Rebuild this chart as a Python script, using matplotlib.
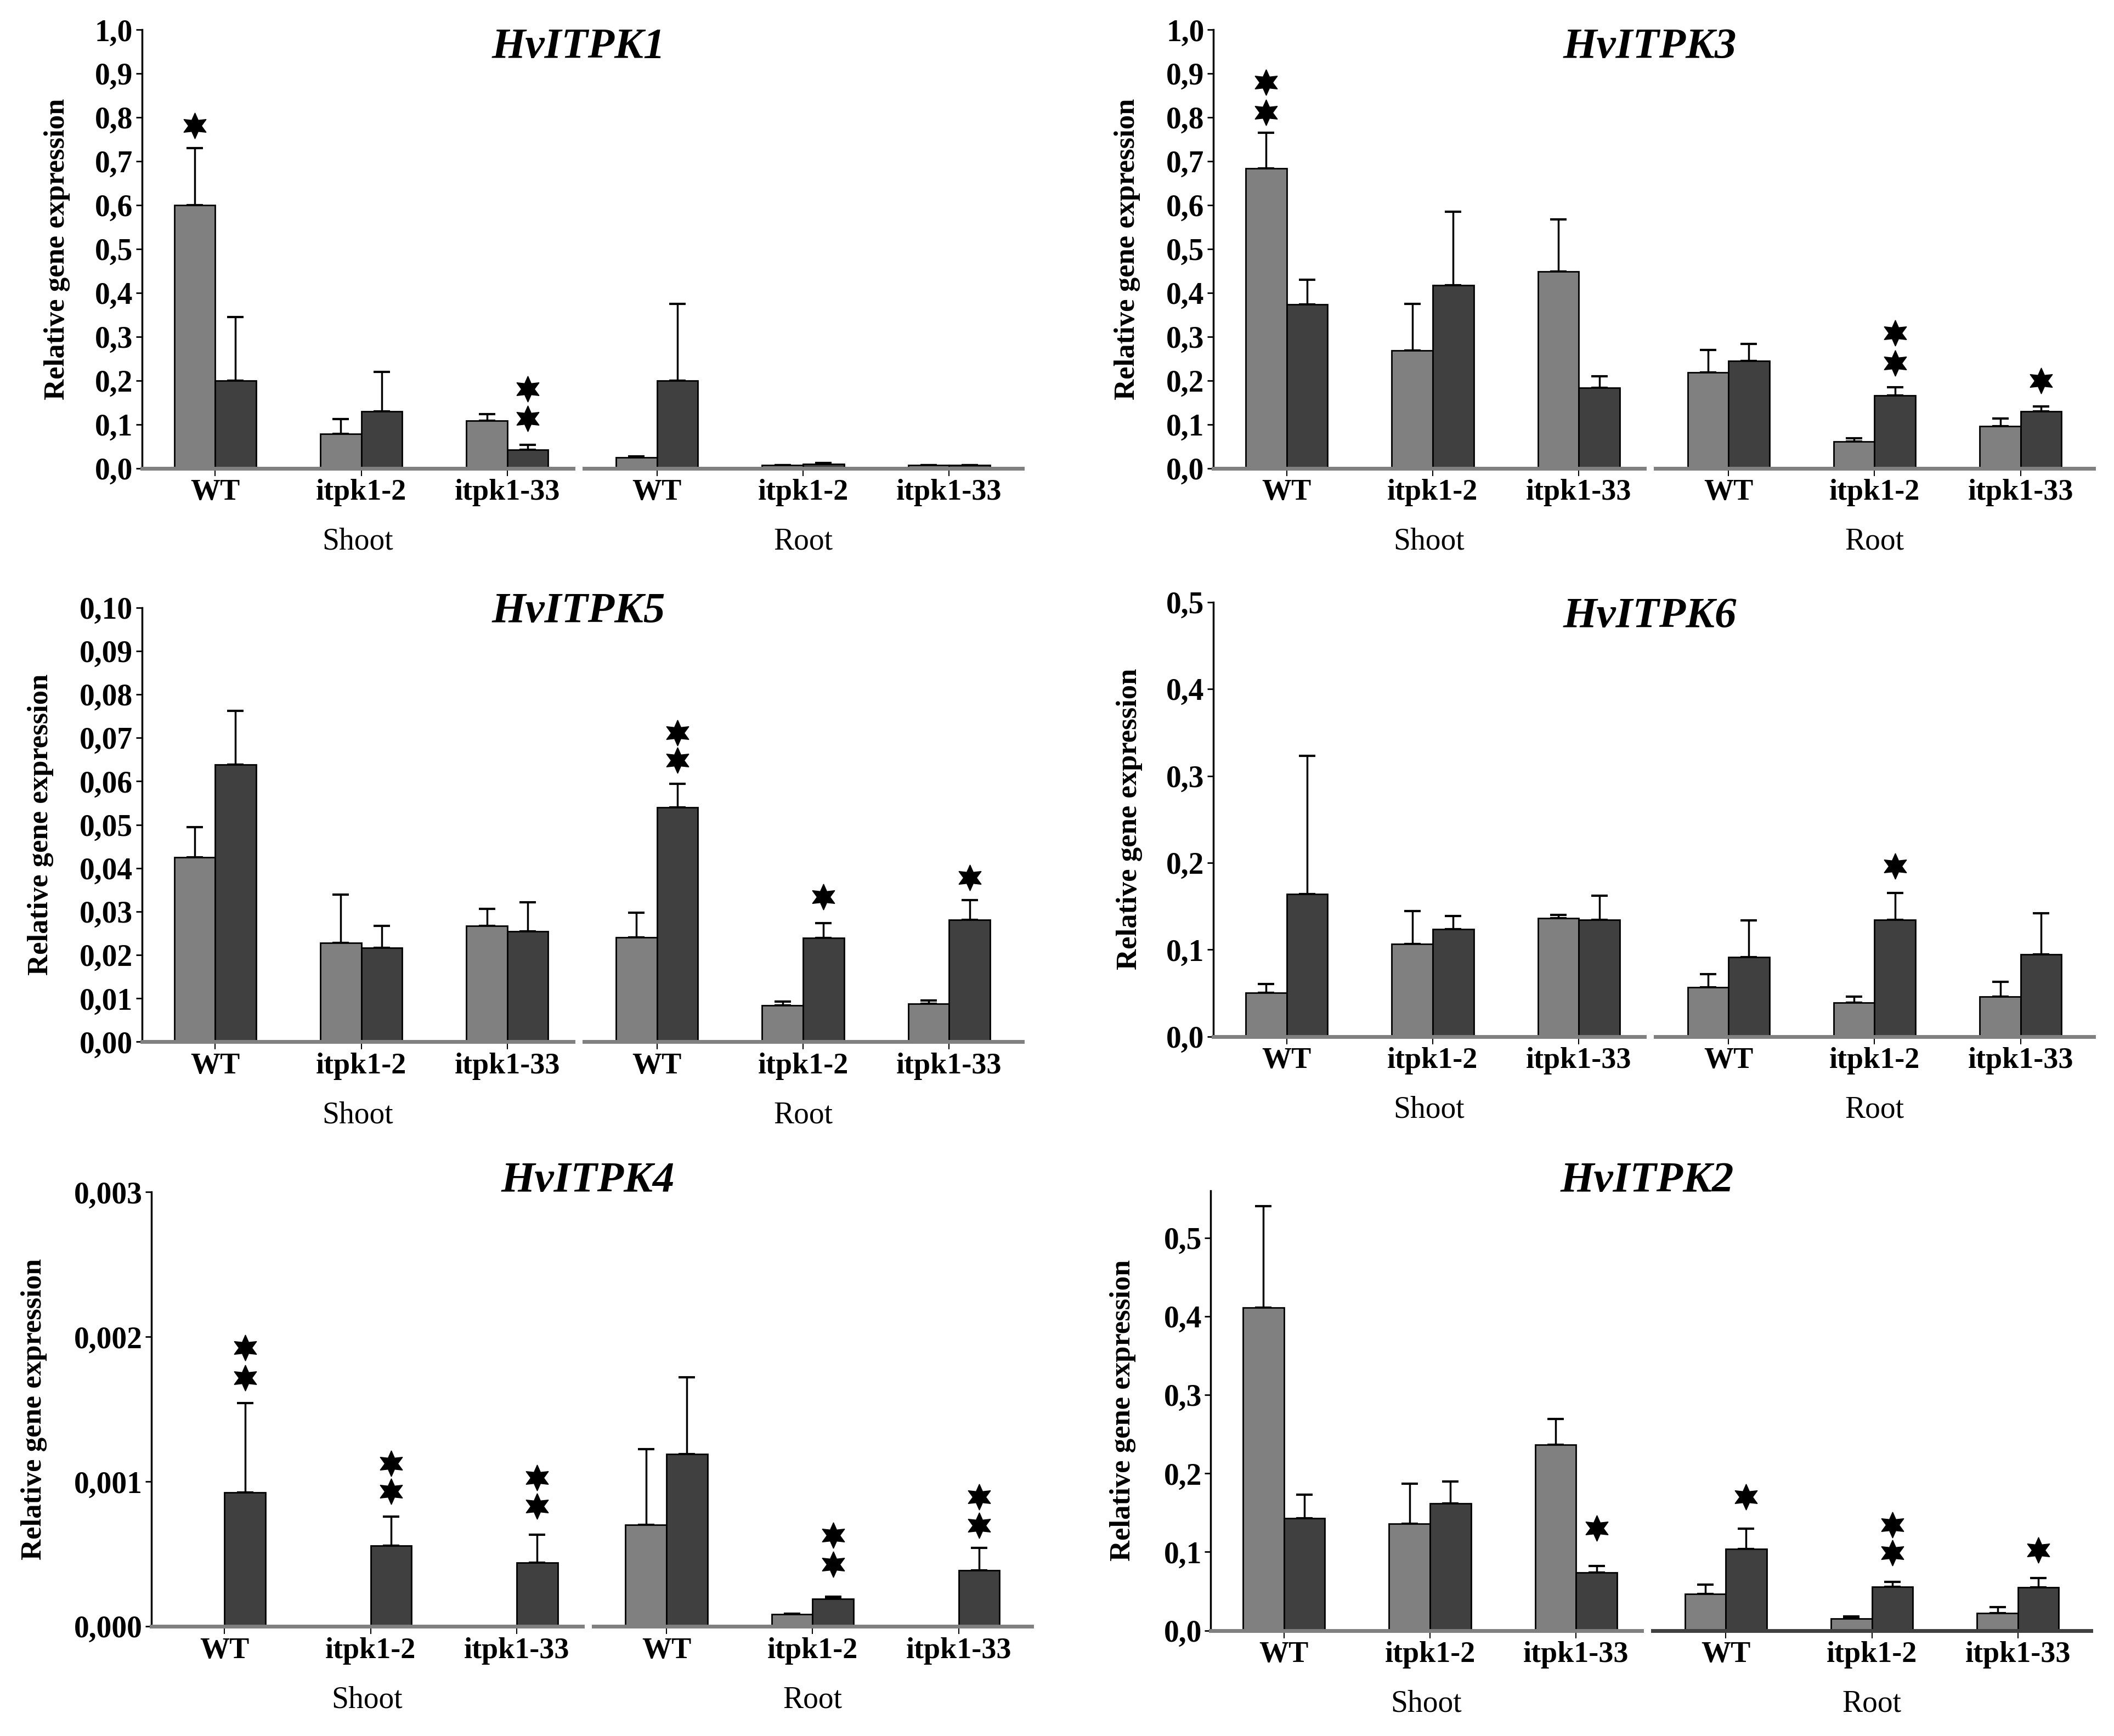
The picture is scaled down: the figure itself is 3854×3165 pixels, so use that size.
import matplotlib
matplotlib.use('Agg')
import matplotlib.pyplot as plt
import numpy as np

plt.rcParams['font.family'] = ['Liberation Serif', 'DejaVu Serif']

genotypes = ['WT', 'itpk1-2', 'itpk1-33']
tissues = ['Shoot', 'Root']

# values per genotype: (light bar, dark bar); err = upper error only
# HvITPK1
k1_shoot = [[0.600, 0.200], [0.078, 0.130], [0.108, 0.042]]
k1_shoot_err = [[0.130, 0.145], [0.034, 0.090], [0.015, 0.011]]
k1_root = [[0.025, 0.200], [0.007, 0.010], [0.007, 0.007]]
k1_root_err = [[0.002, 0.175], [0.000, 0.002], [0.000, 0.000]]
k1_stars = [(0, 0, 0, 0.782), (0, 2, 1, 0.113), (0, 2, 1, 0.181)]

# HvITPK3
k3_shoot = [[0.684, 0.373], [0.268, 0.417], [0.448, 0.183]]
k3_shoot_err = [[0.081, 0.057], [0.107, 0.168], [0.119, 0.026]]
k3_root = [[0.218, 0.245], [0.061, 0.166], [0.096, 0.130]]
k3_root_err = [[0.052, 0.038], [0.007, 0.019], [0.017, 0.011]]
k3_stars = [(0, 0, 0, 0.812), (0, 0, 0, 0.880), (1, 1, 1, 0.240),
            (1, 1, 1, 0.309), (1, 2, 1, 0.200)]

# HvITPK5
k5_shoot = [[0.0425, 0.0638], [0.0228, 0.0217], [0.0267, 0.0254]]
k5_shoot_err = [[0.0070, 0.0124], [0.0111, 0.0050], [0.0039, 0.0068]]
k5_root = [[0.0241, 0.0540], [0.0084, 0.0239], [0.0088, 0.0281]]
k5_root_err = [[0.0057, 0.0054], [0.0009, 0.0034], [0.0007, 0.0046]]
k5_stars = [(1, 0, 1, 0.0648), (1, 0, 1, 0.0712), (1, 1, 1, 0.0334),
            (1, 2, 1, 0.0378)]

# HvITPK6
k6_shoot = [[0.050, 0.164], [0.1066, 0.1236], [0.136, 0.134]]
k6_shoot_err = [[0.0105, 0.159], [0.038, 0.015], [0.004, 0.028]]
k6_root = [[0.0567, 0.0916], [0.039, 0.134], [0.046, 0.0946]]
k6_root_err = [[0.015, 0.042], [0.0066, 0.031], [0.0167, 0.047]]
k6_stars = [(1, 1, 1, 0.196)]

# HvITPK4
k4_shoot = [[0.0, 0.000925], [0.0, 0.000557], [0.0, 0.000440]]
k4_shoot_err = [[0.0, 0.000619], [0.0, 0.000202], [0.0, 0.000195]]
k4_root = [[0.000700, 0.001190], [0.000085, 0.000190], [0.0, 0.000389]]
k4_root_err = [[0.000525, 0.000530], [0.000003, 0.000017], [0.0, 0.000155]]
k4_stars = [(0, 0, 1, 0.001718), (0, 0, 1, 0.001925), (0, 1, 1, 0.000933),
            (0, 1, 1, 0.001127), (0, 2, 1, 0.000829), (0, 2, 1, 0.001028),
            (1, 1, 1, 0.000427), (1, 1, 1, 0.000630), (1, 2, 1, 0.000699),
            (1, 2, 1, 0.000894)]

# HvITPK2
k2_shoot = [[0.411, 0.1427], [0.136, 0.1617], [0.2366, 0.074]]
k2_shoot_err = [[0.129, 0.030], [0.051, 0.028], [0.033, 0.008]]
k2_root = [[0.0463, 0.1035], [0.0153, 0.0558], [0.0224, 0.0549]]
k2_root_err = [[0.012, 0.026], [0.0027, 0.006], [0.0072, 0.012]]
k2_stars = [(0, 2, 1, 0.130), (1, 0, 1, 0.170), (1, 1, 1, 0.0988),
            (1, 1, 1, 0.1345), (1, 2, 1, 0.1026)]

genes = ['HvITPK1', 'HvITPK3', 'HvITPK5', 'HvITPK6', 'HvITPK4', 'HvITPK2']
y_ticks = [np.arange(0, 1.01, 0.1), np.arange(0, 1.01, 0.1),
           np.arange(0, 0.101, 0.01), np.arange(0, 0.51, 0.1),
           np.arange(0, 0.0031, 0.001), np.arange(0, 0.51, 0.1)]
y_dec = [1, 1, 2, 1, 3, 1]
y_max = [1.0, 1.0, 0.10, 0.5, 0.003, 0.56]

panels = [(k1_shoot, k1_shoot_err, k1_root, k1_root_err, k1_stars),
          (k3_shoot, k3_shoot_err, k3_root, k3_root_err, k3_stars),
          (k5_shoot, k5_shoot_err, k5_root, k5_root_err, k5_stars),
          (k6_shoot, k6_shoot_err, k6_root, k6_root_err, k6_stars),
          (k4_shoot, k4_shoot_err, k4_root, k4_root_err, k4_stars),
          (k2_shoot, k2_shoot_err, k2_root, k2_root_err, k2_stars)]

# layout on a 1563 x 1283 grid: axis x, baseline y, top y, title y, ylabel x
layout = [(105, 346, 22, 35, 42),
          (897, 346, 22, 35, 833),
          (105, 770, 449, 452, 30),
          (897, 766, 445, 456, 835),
          (112, 1202, 881, 873, 25),
          (895, 1205, 880, 873, 830)]
W, H = 1563.0, 1283.0
unit = 108.0
bw = 0.28
colors = ['#808080', '#404040']

fig = plt.figure(figsize=(38.55, 31.65), dpi=100)

for p in range(6):
    shoot, shoot_err, root, root_err, stars = panels[p]
    x0, yb, yt, ty, lx = layout[p]
    h = (yb - yt) / H
    ax_s = fig.add_axes([x0 / W, 1 - yb / H, 2.95 * unit / W, h])
    ax_r = fig.add_axes([(x0 + 2.95 * unit + 8) / W, 1 - yb / H, 3 * unit / W, h],
                        sharey=ax_s)
    axes = [ax_s, ax_r]
    for t, (vals, errs) in enumerate([(shoot, shoot_err), (root, root_err)]):
        ax = axes[t]
        vals = np.array(vals)
        errs = np.array(errs)
        x = np.arange(len(genotypes))
        for k in range(2):
            xs = x + (k - 0.5) * bw
            for i in range(len(x)):
                if vals[i, k] <= 0:
                    continue
                ax.bar(xs[i], vals[i, k], bw, color=colors[k], edgecolor='black',
                       linewidth=2, zorder=2)
                ax.errorbar(xs[i], vals[i, k], yerr=[[0], [errs[i, k]]], fmt='none',
                            ecolor='black', elinewidth=2.5, capsize=11, capthick=3,
                            zorder=1)
        for (ti, gi, si, sy) in stars:
            if ti == t:
                ax.plot(gi + (si - 0.5) * bw, sy, marker=(6, 1, 0), ms=34,
                        color='black', ls='none', clip_on=False, zorder=4)
        ax.set_xticks(x)
        ax.set_xticklabels(genotypes, fontsize=39, fontweight='bold')
        ax.tick_params(axis='x', direction='out', length=10, width=1.5, pad=4)
        ax.set_xlabel(tissues[t], fontsize=40, labelpad=28)
        ax.spines['top'].set_visible(False)
        ax.spines['right'].set_visible(False)
        ax.spines['bottom'].set_color('#808080')
        ax.spines['bottom'].set_linewidth(5)
        ax.spines['bottom'].set_zorder(3)
        ax.set_facecolor('none')
    if p == 5:
        ax_r.spines['bottom'].set_color('#404040')
    ax_s.set_xlim(-0.5, 2.45)
    ax_r.set_xlim(-0.5, 2.5)
    ax_s.set_ylim(0, y_max[p])
    ax_s.set_yticks(y_ticks[p])
    ax_s.set_yticklabels([f'{v:.{y_dec[p]}f}'.replace('.', ',') for v in y_ticks[p]],
                         fontsize=40, fontweight='bold')
    ax_s.tick_params(axis='y', direction='out', length=8, width=2, pad=4)
    ax_s.spines['left'].set_linewidth(2.5)
    ax_r.spines['left'].set_visible(False)
    ax_r.tick_params(axis='y', left=False, labelleft=False)

    fig.text((x0 + 2.95 * unit + 4) / W, 1 - ty / H, genes[p], fontsize=57,
             fontweight='bold', fontstyle='italic', ha='center', va='center')
    fig.text(lx / W, 1 - (yb + yt) / 2 / H, 'Relative gene expression', fontsize=38,
             fontweight='bold', rotation=90, ha='center', va='center')

fig.savefig('out.png', dpi=100)
